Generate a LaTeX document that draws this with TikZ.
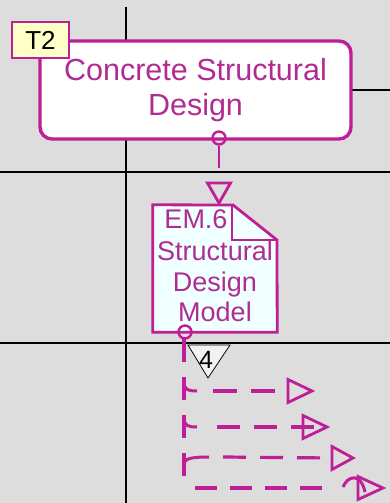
\documentclass[tikz,border=0pt]{standalone}
\usepackage{fontspec}
\setmainfont{Liberation Sans}
\definecolor{bg}{RGB}{221,221,221}
\definecolor{mag}{RGB}{190,30,150}
\definecolor{magtext}{RGB}{176,44,146}
\definecolor{docfill}{RGB}{240,255,255}
\definecolor{tfill}{RGB}{255,255,200}
\definecolor{numfill}{RGB}{242,242,242}
\begin{document}
\begin{tikzpicture}[x=1pt,y=-1pt,
  gridline/.style={draw=black,line width=1.6pt},
  mainbox/.style={draw=mag,fill=white,line width=3.4pt,rounded corners=12pt,
    minimum width=311pt,minimum height=98pt,inner sep=0pt,align=center,
    text=magtext,font=\fontsize{30.5}{35}\selectfont},
  tagbox/.style={draw=mag,fill=tfill,line width=2pt,minimum width=57pt,
    minimum height=36pt,inner sep=0pt,font=\fontsize{26}{30}\selectfont},
  portcirc/.style={circle,draw=mag,line width=2.4pt,minimum size=13pt,inner sep=0pt},
  conn/.style={draw=mag,line width=2.8pt},
  dashconn/.style={draw=mag,line width=3.2pt},
  tri/.style={draw=mag,line width=2.8pt,line join=miter},
  doctext/.style={text=magtext,font=\fontsize{27}{31}\selectfont,inner sep=0pt,anchor=base},
  region/.style={inner sep=0pt,minimum width=124pt,minimum height=127pt}
]
\useasboundingbox (0,0) rectangle (390,503);
\fill[bg] (0,0) rectangle (390,503);
% grid lines
\draw[gridline,line width=2.4pt] (126,7) -- (126,503);
\draw[gridline] (0,172) -- (390,172);
\draw[gridline] (0,343) -- (390,343);
\draw[gridline] (351,90) -- (390,90);
% main process box
\node[mainbox] (csd) at (195.5,90) {Concrete Structural\\Design};
\node[tagbox] (t2) at (40.5,40) {T2};
% output port and connector
\node[portcirc] (c1) at (219,138) {};
\coordinate (c1end) at (219,168);
\draw[conn] (c1.south) -- (c1end);
% input triangle
\coordinate (in1) at (219,203);
\draw[tri] (in1) -- ++(-11.5,-20) -- ++(23,0) -- cycle;
% document
\node[region] (em6) at (215,268.5) {};
\path[fill=docfill,draw=mag,line width=2.8pt,line join=miter]
  (em6.north west) -- (233,205) -- (277,240) -- (em6.south east) -- (em6.south west) -- cycle;
\draw[mag,line width=2.4pt] (232,205) -- (232,240) -- (277,240);
\node[doctext] (em6a) at (196,228) {EM.6};
\node[doctext] (em6b) at (215,260) {Structural};
\node[doctext] (em6c) at (215,291) {Design};
\node[doctext] (em6d) at (215,321) {Model};
% bottom port
\node[portcirc] (c2) at (185,332) {};
\coordinate (trunkend) at (184,477);
\draw[dashconn,dash pattern=on 23pt off 15pt] (184,339) -- (trunkend);
% numbered triangle
\path[draw=black,fill=numfill,line width=0.8pt] (188,345) -- (230,345) -- (208,378) -- cycle;
\node[font=\fontsize{25}{28}\selectfont,inner sep=0pt] (n4) at (206,360) {4};
% branch 1
\draw[conn,line width=3pt] (184,384) .. controls (185,390) and (189,391) .. (197,391);
\coordinate (a1) at (288,391);
\draw[dashconn,dash pattern=on 24pt off 14pt] (213,391) -- (a1);
\draw[tri] (a1) ++(0,-11.5) -- ++(24,11.5) -- ++(-24,11.5) -- cycle;
% branch 2
\draw[conn,line width=3pt] (184,420) .. controls (185,426) and (189,427) .. (197,427);
\coordinate (a2) at (303,427);
\draw[dashconn,dash pattern=on 23pt off 14pt] (217,427) -- (315,427);
\draw[tri] (a2) ++(0,-11.5) -- ++(24,11.5) -- ++(-24,11.5) -- cycle;
% branch 3
\draw[conn,line width=3pt] (184,464) .. controls (185,459) and (189,457) .. (209,457);
\coordinate (a3) at (332,458);
\draw[dashconn,dash pattern=on 23pt off 14pt] (223,457) -- (a3);
\draw[tri] (a3) ++(0,-11.5) -- ++(21,11.5) -- ++(-21,11.5) -- cycle;
% branch 4
\coordinate (a4) at (358,488);
\draw[dashconn,dash pattern=on 22pt off 13pt] (195,488) -- (330,488);
\draw[conn,line width=3pt] (343,487) .. controls (348,475) and (361,473) .. (365,492);
\draw[tri] (a4) ++(0,-11.5) -- ++(25,11.5) -- ++(-25,11.5) -- cycle;
\end{tikzpicture}
\end{document}
